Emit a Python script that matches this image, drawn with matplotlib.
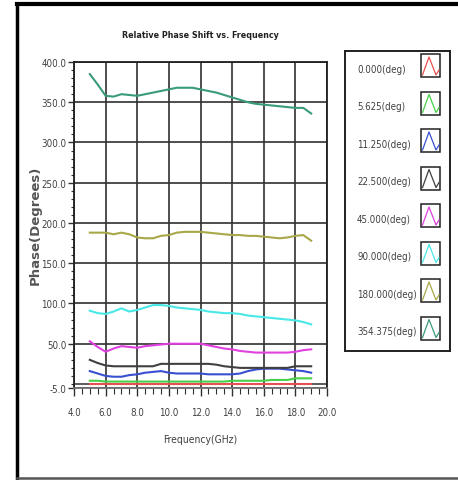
import matplotlib
matplotlib.use("Agg")
import matplotlib.pyplot as plt
import numpy as np
from matplotlib import font_manager
from matplotlib.lines import Line2D
from matplotlib.patches import Rectangle
from matplotlib.ticker import MultipleLocator, FormatStrFormatter


def narrow_font():
    # prefer a condensed face if one is installed
    for f in font_manager.fontManager.ttflist:
        if f.name == 'Liberation Sans Narrow':
            return dict(family='Liberation Sans Narrow')
    for f in font_manager.fontManager.ttflist:
        if f.name == 'DejaVu Sans' and f.stretch in ('condensed', 'semi-condensed', 600, 500, 300):
            return dict(family='DejaVu Sans', stretch='condensed')
    return dict(family='Liberation Sans')


NF = narrow_font()

# Frequency sweep (GHz)
freq = [5.0, 5.5, 6.0, 6.5, 7.0, 7.5, 8.0, 8.5, 9.0, 9.5, 10.0, 10.5, 11.0, 11.5, 12.0,
        12.5, 13.0, 13.5, 14.0, 14.5, 15.0, 15.5, 16.0, 16.5, 17.0, 17.5, 18.0, 18.5, 19.0]

# Measured relative phase per phase-shifter state (degrees)
ph_0 = [0] * 29
ph_5_625 = [4, 4, 3, 3, 3, 3, 3, 3, 3, 3, 3, 3, 3, 3, 3,
            3, 3, 3, 4, 4, 4, 4, 4, 5, 5, 5, 7, 7, 7]
ph_11_25 = [16, 13, 10, 9, 9, 11, 12, 14, 15, 16, 14, 13, 13, 13, 13,
            12, 12, 12, 12, 13, 16, 18, 19, 19, 19, 18, 17, 16, 14]
ph_22_5 = [30, 26, 23, 22, 22, 22, 22, 22, 22, 25, 25, 25, 25, 25, 25,
           25, 24, 22, 21, 20, 20, 20, 20, 20, 20, 20, 22, 22, 22]
ph_45 = [53, 46, 40, 44, 47, 46, 45, 47, 48, 49, 50, 50, 50, 50, 50,
         48, 46, 44, 43, 41, 40, 39, 39, 39, 39, 39, 40, 42, 43]
ph_90 = [91, 88, 87, 90, 94, 90, 92, 95, 98, 98, 97, 95, 94, 93, 92,
         90, 89, 88, 88, 87, 85, 84, 83, 82, 81, 80, 79, 77, 74]
ph_180 = [188, 188, 188, 186, 188, 186, 182, 181, 181, 184, 185, 188, 189, 189, 189,
          188, 187, 186, 185, 185, 184, 184, 183, 182, 181, 182, 184, 185, 178]
ph_354 = [385, 372, 358, 357, 360, 359, 358, 360, 362, 364, 366, 368, 368, 368, 366,
          364, 362, 359, 356, 353, 350, 348, 347, 346, 345, 344, 343, 343, 336]

labels = ['0.000(deg)', '5.625(deg)', '11.250(deg)', '22.500(deg)',
          '45.000(deg)', '90.000(deg)', '180.000(deg)', '354.375(deg)']
series = [ph_0, ph_5_625, ph_11_25, ph_22_5, ph_45, ph_90, ph_180, ph_354]
colors = ['#e85050', '#48d048', '#3850d0', '#404040',
          '#e040e0', '#48e8e8', '#a8a848', '#3a9a7c']

W, H = 458, 481
fig = plt.figure(figsize=(W / 100, H / 100), dpi=100)

# outer panel frame
fig.add_artist(Line2D([17 / W, 17 / W], [1 - 5 / H, 1 - 479 / H], color='black', lw=2.5))
fig.add_artist(Line2D([17 / W, 1.0], [1 - 5 / H, 1 - 5 / H], color='black', lw=3))
fig.add_artist(Line2D([17 / W, 1.0], [1 - 479 / H, 1 - 479 / H], color='#555555', lw=1.8))

ax = fig.add_axes([74 / W, 1 - 389 / H, (327 - 74) / W, (389 - 63) / H])
for y, c, lab in zip(series, colors, labels):
    ax.plot(freq, y, color=c, lw=1.5, label=lab, zorder=3)

ax.set_xlim(4, 20)
ax.set_ylim(-5, 400)
ax.set_xticks([4, 6, 8, 10, 12, 14, 16, 18, 20])
ax.set_yticks([-5, 50, 100, 150, 200, 250, 300, 350, 400])
ax.xaxis.set_minor_locator(MultipleLocator(0.5))
ax.yaxis.set_minor_locator(MultipleLocator(10))
ax.xaxis.set_major_formatter(FormatStrFormatter('%.1f'))
ax.yaxis.set_major_formatter(FormatStrFormatter('%.1f'))
ax.grid(True, which='major', color='#303030', lw=1.2, zorder=1)
ax.axhline(0, color='#404040', lw=1.2, zorder=1)

ax.tick_params(which='major', length=4, width=1, color='#303030', labelcolor='#404040',
               labelsize=7)
ax.tick_params(which='minor', length=2.5, width=0.8, color='#303030')
ax.tick_params(axis='y', pad=1.5)
ax.tick_params(axis='x', pad=8, length=6)
ax.tick_params(axis='x', which='minor', length=4)
for lbl in ax.get_xticklabels() + ax.get_yticklabels():
    lbl.set(**NF)
for s in ax.spines.values():
    s.set_color('#202020')
    s.set_linewidth(1.3)
ax.spines['bottom'].set_color('#707070')

ax.set_title('Relative Phase Shift vs. Frequency', fontweight='bold',
             fontsize=6.4, color='#202020', pad=18, **NF)
ax.set_xlabel('Frequency(GHz)', fontsize=7.5, color='#404040', labelpad=12, **NF)
fig.text(35 / W, 1 - 225 / H, 'Phase(Degrees)', rotation=90, ha='center', va='center',
         fontsize=9.5, fontweight='bold', color='#555555', family='DejaVu Sans')

# plot legend panel with swatches
lg = fig.add_axes([345 / W, 1 - 352 / H, 105 / W, 300 / H])
lg.set_xlim(0, 105)
lg.set_ylim(300, 0)
lg.set_xticks([])
lg.set_yticks([])
for s in lg.spines.values():
    s.set_color('#202020')
    s.set_linewidth(1.4)
for i, (lab, c) in enumerate(zip(labels, colors)):
    yc = 18 + 37.5 * i
    lg.text(12, yc, lab, ha='left', va='center', fontsize=7, color='#404040', **NF)
    lg.add_patch(Rectangle((76, yc - 15), 19, 23, fill=False, ec='#202020', lw=1.1))
    lg.plot([77.5, 84, 91, 94], [yc + 6, yc - 12, yc + 6, yc + 1], color=c, lw=0.9)

fig.savefig('out.png', dpi=100)
